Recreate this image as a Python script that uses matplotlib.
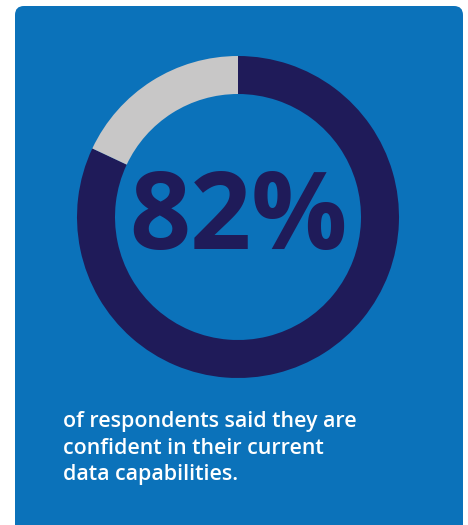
import matplotlib
matplotlib.use("Agg")
import matplotlib.pyplot as plt
from matplotlib.patches import FancyBboxPatch

W, H = 468, 525
labels = ["Confident", "Not confident"]
values = [82, 18]
colors = ["#1F1B59", "#C8C7C7"]
big_label = "82%"
caption = "of respondents said they are\nconfident in their current\ndata capabilities."

fig = plt.figure(figsize=(W / 100, H / 100), dpi=100)
fig.patch.set_facecolor("white")

bg = fig.add_axes([0, 0, 1, 1])
bg.set_xlim(0, W)
bg.set_ylim(H, 0)
bg.axis("off")
bg.add_patch(FancyBboxPatch((15, 6), 448, 530, boxstyle="round,pad=0,rounding_size=9",
                            facecolor="#0B72BA", edgecolor="none"))

cx, cy, r, ring = 238, 217, 161, 38
pax = fig.add_axes([(cx - r) / W, (H - cy - r) / H, 2 * r / W, 2 * r / H])
pax.pie(values, colors=colors, startangle=90, counterclock=False, radius=1,
        wedgeprops=dict(width=ring / r, edgecolor="none"))
pax.set_xlim(-1, 1)
pax.set_ylim(-1, 1)
pax.set_aspect("equal")
pax.axis("off")

bg.text(cx, 249, big_label, ha="center", va="baseline", fontsize=77,
        family="Open Sans", fontweight="bold", color="#1F1B59")

bg.text(63, 448, caption, ha="left", va="center", fontsize=15.4,
        family="Open Sans", fontweight=600, color="white", linespacing=1.33)

fig.savefig("out.png", dpi=100, facecolor="white")
